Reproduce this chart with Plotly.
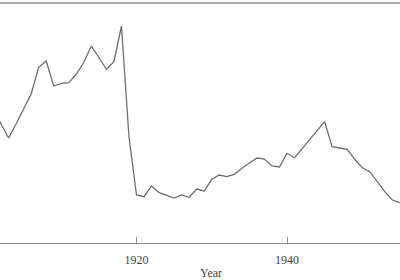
import plotly.graph_objects as go

years = list(range(1900, 1958))
# values (arbitrary units, higher = up)
pix = [100, 110, 124, 138, 124, 108.8, 94, 67.3, 61, 86,
       83.3, 82.7, 74.3, 62.3, 46, 57.5, 69.3, 61.7, 26, 137,
       195, 196.7, 186, 192.7, 195, 198, 195, 197.3, 189, 191,
       179.3, 175, 176.7, 174.3, 168.3, 163.3, 158, 159, 166, 167,
       153.3, 157.7, 148.3, 140, 130.7, 121.7, 146.7, 148, 149.3, 159.3,
       167.7, 171.7, 181.7, 191.7, 200, 202.7, 204, 203]
values = [round(243 - p, 1) for p in pix]

tick_years = [1900, 1920, 1940, 1960]
tick_labels = ["1900", "1920", "1940", "1960"]

font = dict(family="Liberation Serif", size=12, color="#444444")

fig = go.Figure()
fig.add_trace(go.Scatter(x=years, y=values, mode="lines",
                         line=dict(color="#6e6e6e", width=1.3),
                         showlegend=False, hoverinfo="skip"))

fig.update_layout(
    width=400, height=280,
    margin=dict(l=0, r=0, t=3, b=37),
    paper_bgcolor="white", plot_bgcolor="white",
    font=font,
    xaxis=dict(range=[1901.86, 1955.017], tickvals=tick_years, ticktext=tick_labels,
               ticks="inside", ticklen=6, tickcolor="#888888", tickwidth=1,
               showline=True, linecolor="#888888", linewidth=1,
               showgrid=False, zeroline=False, ticklabelstandoff=6,
               tickfont=font),
    yaxis=dict(range=[0, 240], visible=False),
    shapes=[dict(type="line", xref="paper", yref="paper", x0=0, x1=1, y0=1, y1=1,
                 line=dict(color="#aaaaaa", width=2))],
    annotations=[
        dict(text="1900", xref="paper", yref="paper", x=-14/400, y=-15/240,
             xanchor="center", yanchor="middle", showarrow=False, font=font),
        dict(text="Year", xref="paper", yref="paper", x=211/400, y=-30/240,
             xanchor="center", yanchor="middle", showarrow=False, font=font),
    ],
)

fig.write_html("out.html")
